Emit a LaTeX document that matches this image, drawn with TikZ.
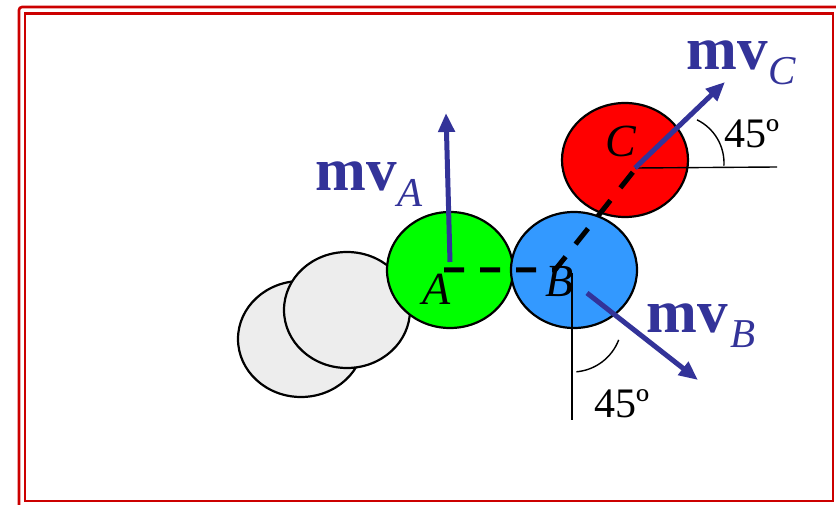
\documentclass[tikz,border=0pt]{standalone}
\usepackage{fontspec}
\setmainfont{Liberation Serif}
\usetikzlibrary{shapes.geometric,arrows.meta}
\definecolor{framered}{HTML}{CC0000}
\definecolor{arrowblue}{HTML}{333399}
\definecolor{ballgreen}{HTML}{00FF00}
\definecolor{ballblue}{HTML}{3399FF}
\definecolor{ballred}{HTML}{FF0000}
\definecolor{ballgray}{HTML}{EDEDED}
\begin{document}
\begin{tikzpicture}[x=1pt,y=-1pt,
  ball/.style={ellipse, draw=black, line width=2.2pt, minimum width=126pt, minimum height=116pt, inner sep=0pt},
  mom/.style={draw=arrowblue, line width=5pt, -{Triangle[length=19pt,width=16pt]}},
  refline/.style={draw=black, line width=1.4pt},
  balllbl/.style={inner sep=0pt, anchor=base west, font=\fontsize{46}{46}\selectfont\itshape},
  anglbl/.style={inner sep=0pt, anchor=base west, font=\fontsize{42}{42}\selectfont},
  momlbl/.style={inner sep=0pt, anchor=base west, text=arrowblue, font=\fontsize{61}{61}\selectfont\bfseries},
  sublbl/.style={inner sep=0pt, anchor=base west, text=arrowblue, font=\fontsize{41}{41}\selectfont\itshape},
  framebox/.style={draw=framered, line width=2.6pt},
  centerline/.style={draw=black, line width=5pt, dash pattern=on 20pt off 16pt}
  ]
\useasboundingbox (0,0) rectangle (836,505);
\clip (0,0) rectangle (836,505);
% frame
\draw[framebox, rounded corners=3pt] (19,7) rectangle (860,530);
\draw[framebox] (25,13.5) rectangle (833,501);
% balls
\node[ball, fill=ballgray] (g1) at (301,339) {};
\node[ball, fill=ballgray] (g2) at (347,310) {};
\node[ball, fill=ballgreen] (A) at (450,270) {};
\node[ball, fill=ballblue] (B) at (574,270) {};
\node[ball, fill=ballred, minimum height=114pt] (C) at (625,160) {};
% reference points
\coordinate (pA) at (444,270);
\coordinate (pB) at (555,270);
\coordinate (pC) at (637,167);
\coordinate (aA) at (450,262);
\coordinate (tA) at (446,113);
\coordinate (aB) at (587,293);
\coordinate (tB) at (698,380);
\coordinate (aC) at (635,168);
\coordinate (tC) at (725,82);
\coordinate (hC) at (777,167);
\coordinate (vB0) at (572,273);
\coordinate (vB1) at (572,420);
% ball labels
\node[balllbl] (lA) at (422,305) {A};
\node[balllbl] (lB) at (545,297) {B};
\node[balllbl] (lC) at (605,157) {C};
% center line
\draw[centerline] (pA) -- (pB) -- (pC);
% reference lines and angle arcs
\draw[refline] (aC) -- (hC);
\draw[refline] (vB0) -- (vB1);
\draw[refline] (676,163) ++(-64:48) arc[start angle=-64, end angle=3, radius=48];
\draw[refline] (572,322) ++(21:50) arc[start angle=21, end angle=85, radius=50];
% momentum arrows
\draw[mom] (aA) -- (tA);
\draw[mom] (aB) -- (tB);
\draw[mom] (aC) -- (tC);
% labels
\node[anglbl] (angC) at (724,148) {45º};
\node[anglbl] (angB) at (594,417) {45º};
\node[momlbl] (mvA) at (315,191) {mv};
\node[sublbl] (mvAs) at (397,207) {A};
\node[momlbl] (mvB) at (646,333) {mv};
\node[sublbl] (mvBs) at (730,347) {B};
\node[momlbl] (mvC) at (686,70) {mv};
\node[sublbl] (mvCs) at (768,85) {C};
\end{tikzpicture}
\end{document}
